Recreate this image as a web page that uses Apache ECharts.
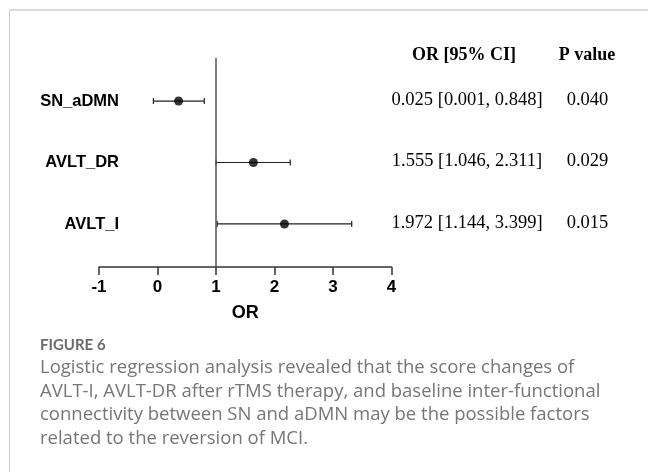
<!DOCTYPE html>
<html>
<head>
<meta charset="utf-8">
<script src="https://cdn.jsdelivr.net/npm/echarts@6/dist/echarts.min.js"></script>
<style>
  html, body { margin: 0; padding: 0; background: #fff; }
  #chart { width: 648px; height: 472px; }
</style>
</head>
<body>
<div id="chart"></div>
<script>
// forest plot data
const names = ["SN_aDMN", "AVLT_DR", "AVLT_I"];
const orValues = [0.36, 1.64, 2.17];
const ciLow = [-0.07, 1.0, 1.02];
const ciHigh = [0.8, 2.27, 3.32];
const orText = ["0.025 [0.001, 0.848]", "1.555 [1.046, 2.311]", "1.972 [1.144, 3.399]"];
const pText = ["0.040", "0.029", "0.015"];
const xTicks = [-1, 0, 1, 2, 3, 4];

const captionLines = [
  "Logistic regression analysis revealed that the score changes of",
  "AVLT-I, AVLT-DR after rTMS therapy, and baseline inter-functional",
  "connectivity between SN and aDMN may be the possible factors",
  "related to the reversion of MCI."
];

const el = document.getElementById("chart");
const chart = echarts.init(el, null, { renderer: "canvas" });

const rows = names.map((n, i) => i + 1);
const sans = "'Liberation Sans', Arial";

const option = {
  animation: false,
  grid: { left: 99, right: 256.5, top: 58, bottom: 205 },
  xAxis: {
    type: "value",
    min: xTicks[0],
    max: xTicks[xTicks.length - 1],
    interval: 1,
    splitLine: { show: false },
    axisLine: { lineStyle: { color: "#333", width: 1.5 } },
    axisTick: { length: 8, lineStyle: { color: "#333", width: 1.5 } },
    axisLabel: {
      color: "#000",
      fontFamily: sans,
      fontWeight: "bold",
      fontSize: 17,
      margin: 12
    },
    name: "OR",
    nameLocation: "middle",
    nameGap: 37,
    nameTextStyle: {
      color: "#000",
      fontFamily: sans,
      fontWeight: "bold",
      fontSize: 18
    }
  },
  yAxis: {
    type: "value",
    inverse: true,
    min: 0.3,
    max: 3.7,
    splitLine: { show: false },
    axisLine: { show: false },
    axisTick: { show: false },
    axisLabel: {
      customValues: rows,
      formatter: (v) => names[Math.round(v) - 1] || "",
      color: "#000",
      fontFamily: sans,
      fontWeight: "bold",
      fontSize: 16.5,
      margin: -20
    }
  },
  series: [
    {
      // reference line at OR = 1
      type: "line",
      data: [],
      markLine: {
        silent: true,
        symbol: "none",
        label: { show: false },
        lineStyle: { color: "#555", width: 1.5, type: "solid" },
        data: [{ xAxis: 1 }]
      }
    },
    {
      type: "custom",
      data: names.map((n, i) => [ciLow[i], ciHigh[i], i + 1]),
      renderItem: function (params, api) {
        const a = api.coord([api.value(0), api.value(2)]);
        const b = api.coord([api.value(1), api.value(2)]);
        const cap = 3;
        const style = { stroke: "#222", lineWidth: 1.2 };
        return {
          type: "group",
          children: [
            { type: "line", shape: { x1: a[0], y1: a[1], x2: b[0], y2: b[1] }, style },
            { type: "line", shape: { x1: a[0], y1: a[1] - cap, x2: a[0], y2: a[1] + cap }, style },
            { type: "line", shape: { x1: b[0], y1: b[1] - cap, x2: b[0], y2: b[1] + cap }, style }
          ]
        };
      },
      z: 3
    },
    {
      type: "scatter",
      symbol: "circle",
      symbolSize: 9,
      itemStyle: { color: "#000" },
      data: orValues.map((v, i) => [v, i + 1]),
      z: 4
    }
  ]
};

chart.setOption(option);

// table texts and caption, placed next to the rows
const serif = "'Liberation Serif', 'Times New Roman'";
const gfx = [];
gfx.push({ type: "line", shape: { x1: 9, y1: 10, x2: 648, y2: 10 }, style: { stroke: "#dcdcdc", lineWidth: 2 } });
gfx.push({ type: "line", shape: { x1: 9.5, y1: 10, x2: 9.5, y2: 472 }, style: { stroke: "#cfcfcf", lineWidth: 1 } });
gfx.push({ type: "text", x: 464, y: 55, style: { text: "OR [95% CI]", font: "bold 18px " + serif, fill: "#000", align: "center", verticalAlign: "middle" } });
gfx.push({ type: "text", x: 587, y: 55, style: { text: "P value", font: "bold 18px " + serif, fill: "#000", align: "center", verticalAlign: "middle" } });
names.forEach((n, i) => {
  const y = chart.convertToPixel({ yAxisIndex: 0 }, i + 1);
  gfx.push({ type: "text", x: 467, y: y - 1, style: { text: orText[i], font: "18.5px " + serif, fill: "#000", align: "center", verticalAlign: "middle" } });
  gfx.push({ type: "text", x: 587.5, y: y - 1, style: { text: pText[i], font: "18.5px " + serif, fill: "#000", align: "center", verticalAlign: "middle" } });
});
gfx.push({ type: "text", x: 40, y: 345, style: { text: "FIGURE 6", font: "bold 15px Lato", fill: "#6b6b6b", verticalAlign: "middle" } });
captionLines.forEach((t, i) => {
  gfx.push({ type: "text", x: 40, y: 368 + i * 23.6, style: { text: t, font: "18.5px 'Open Sans'", fill: "#767676", verticalAlign: "middle" } });
});
chart.setOption({ graphic: gfx });

window.addEventListener("resize", () => chart.resize());
</script>
</body>
</html>
